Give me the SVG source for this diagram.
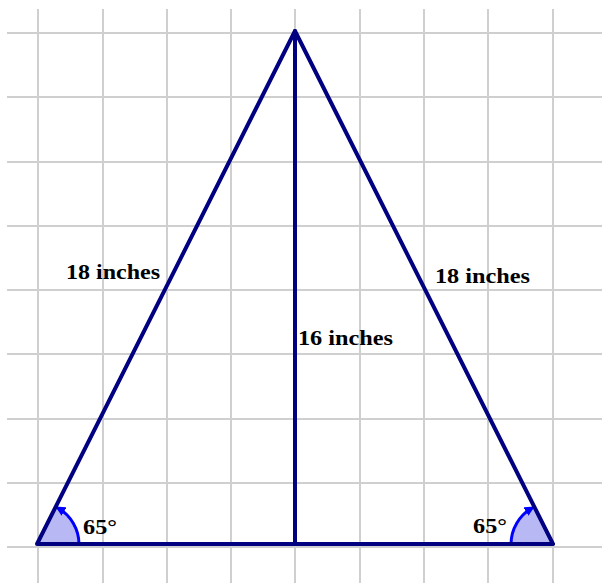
<svg xmlns="http://www.w3.org/2000/svg" width="602" height="583" viewBox="0 0 602 583">
<style>
.grid line{stroke:#cfcfcf;stroke-width:2}
.edge{stroke:#000080;stroke-width:4;fill:none;stroke-linecap:round;stroke-linejoin:round}
.sector{fill:#b8b8f5;stroke:none}
.arc{stroke:#0000ff;stroke-width:3;fill:none}
.lbl{font-family:'Liberation Serif','Times New Roman',serif;font-weight:bold;font-size:22px;fill:#000}
</style>
<defs>
<marker id="ah" viewBox="0 0 10 10" refX="7" refY="5" markerWidth="10" markerHeight="10" markerUnits="userSpaceOnUse" orient="auto">
<path d="M0,0 L10,5 L0,10 Z" fill="#0000ff"/>
</marker>
</defs>
<rect width="602" height="583" fill="#fff"/>
<g class="grid" id="grid">
<line x1="38" y1="9" x2="38" y2="583"/>
<line x1="103" y1="9" x2="103" y2="583"/>
<line x1="167" y1="9" x2="167" y2="583"/>
<line x1="231" y1="9" x2="231" y2="583"/>
<line x1="295" y1="9" x2="295" y2="583"/>
<line x1="360" y1="9" x2="360" y2="583"/>
<line x1="424" y1="9" x2="424" y2="583"/>
<line x1="488" y1="9" x2="488" y2="583"/>
<line x1="553" y1="9" x2="553" y2="583"/>
<line x1="7" y1="33" x2="602" y2="33"/>
<line x1="7" y1="97" x2="602" y2="97"/>
<line x1="7" y1="162" x2="602" y2="162"/>
<line x1="7" y1="226" x2="602" y2="226"/>
<line x1="7" y1="290" x2="602" y2="290"/>
<line x1="7" y1="354" x2="602" y2="354"/>
<line x1="7" y1="419" x2="602" y2="419"/>
<line x1="7" y1="483" x2="602" y2="483"/>
<line x1="7" y1="547" x2="602" y2="547"/>
</g>
<g id="angle-left">
<path class="sector" d="M37,544 L79,544 A42,42 0 0 0 55.9,506.5 Z"/>
<path class="arc" d="M79,544 A42,42 0 0 0 58,508" marker-end="url(#ah)"/>
</g>
<g id="angle-right">
<path class="sector" d="M553,544 L511,544 A42,42 0 0 1 534.1,506.5 Z"/>
<path class="arc" d="M511,544 A42,42 0 0 1 532,508" marker-end="url(#ah)"/>
</g>
<g id="connectors">
<polygon class="edge" points="295,31 553,544 37,544"/>
<line class="edge" x1="295" y1="31" x2="295" y2="544"/>
</g>
<g id="labels">
<text class="lbl" x="66" y="279" textLength="94" lengthAdjust="spacingAndGlyphs">18 inches</text>
<text class="lbl" x="435" y="283" textLength="95" lengthAdjust="spacingAndGlyphs">18 inches</text>
<text class="lbl" x="298" y="345" textLength="95" lengthAdjust="spacingAndGlyphs">16 inches</text>
<text class="lbl" x="83" y="534" textLength="34" lengthAdjust="spacingAndGlyphs">65°</text>
<text class="lbl" x="473" y="533" textLength="34" lengthAdjust="spacingAndGlyphs">65°</text>
</g>
</svg>
